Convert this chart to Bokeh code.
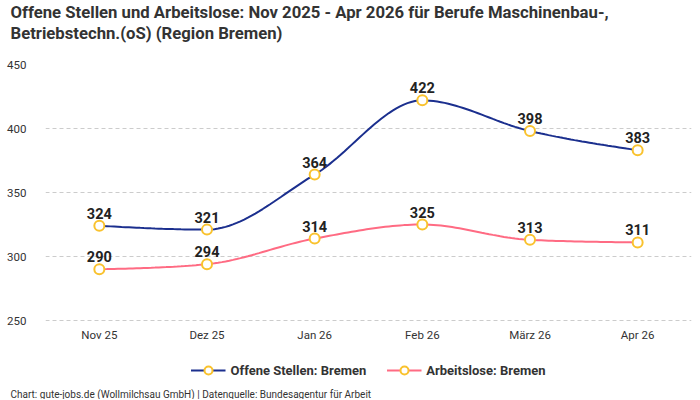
import numpy as np
from bokeh.plotting import figure
from bokeh.models import (ColumnDataSource, FixedTicker, Range1d, Title, Legend, LegendItem)
from bokeh.core.properties import value
from bokeh.embed import file_html
from bokeh.resources import INLINE

months = ["Nov 25", "Dez 25", "Jan 26", "Feb 26", "März 26", "Apr 26"]
offene = [324, 321, 364, 422, 398, 383]
arbeitslose = [290, 294, 314, 325, 313, 311]
y_ticks = [250, 300, 350, 400, 450]

FONT = "Roboto"
BLUE = "#1b2f8e"
PINK = "#ff6b83"
YELLOW = "#f9c22e"
TXT = "#333333"


def monotone(xs, ys, n=30):
    """d3 curveMonotoneX rendering of the given points."""
    xs = np.asarray(xs, float)
    ys = np.asarray(ys, float)
    h = np.diff(xs)
    s = np.diff(ys) / h
    m = len(xs)
    t = np.zeros(m)
    for i in range(1, m - 1):
        p = (s[i - 1] * h[i] + s[i] * h[i - 1]) / (h[i - 1] + h[i])
        t[i] = (np.sign(s[i - 1]) + np.sign(s[i])) * min(abs(s[i - 1]), abs(s[i]), 0.5 * abs(p))
    t[0] = (3 * s[0] - t[1]) / 2
    t[-1] = (3 * s[-1] - t[-2]) / 2
    X, Y = [], []
    u = np.linspace(0, 1, n)
    for i in range(m - 1):
        dx = h[i] / 3
        P0 = np.array([xs[i], ys[i]])
        P1 = np.array([xs[i] + dx, ys[i] + dx * t[i]])
        P2 = np.array([xs[i + 1] - dx, ys[i + 1] - dx * t[i + 1]])
        P3 = np.array([xs[i + 1], ys[i + 1]])
        seg = (((1 - u) ** 3)[:, None] * P0 + (3 * (1 - u) ** 2 * u)[:, None] * P1
               + (3 * (1 - u) * u ** 2)[:, None] * P2 + (u ** 3)[:, None] * P3)
        if i > 0:
            seg = seg[1:]
        X.extend(seg[:, 0])
        Y.extend(seg[:, 1])
    return X, Y


x = list(range(len(months)))

FRAME_H = 316
y_end = 450
y_start = y_end - FRAME_H * 50 / 64

p = figure(frame_width=646, frame_height=FRAME_H, output_backend="svg", toolbar_location=None,
           x_range=Range1d(-0.5, len(months) - 0.5), y_range=Range1d(y_start, y_end),
           min_border_left=45, min_border_right=9, min_border_top=0, min_border_bottom=0)
p.outline_line_color = None
p.background_fill_color = "white"
p.border_fill_color = "white"

# spacer between title block and plot area
p.add_layout(Title(text=" ", text_font_size="2px", standoff=18), "above")
p.add_layout(Title(text="Betriebstechn.(oS) (Region Bremen)", text_font=FONT,
                   text_font_size="16.7px", text_font_style="bold", text_color=TXT,
                   offset=-35, standoff=0), "above")
p.add_layout(Title(text="Offene Stellen und Arbeitslose: Nov 2025 - Apr 2026 für Berufe Maschinenbau-,",
                   text_font=FONT, text_font_size="16.7px", text_font_style="bold",
                   text_color=TXT, offset=-35, standoff=0), "above")

p.xgrid.grid_line_color = None
p.ygrid.grid_line_color = "#cccccc"
p.ygrid.grid_line_dash = "4 3"
p.yaxis.ticker = FixedTicker(ticks=y_ticks)
p.yaxis.axis_line_color = None
p.yaxis.major_tick_line_color = None
p.yaxis.minor_tick_line_color = None
p.yaxis.major_label_text_font = FONT
p.yaxis.major_label_text_font_size = "11.5px"
p.yaxis.major_label_text_color = TXT
p.yaxis.major_label_standoff = 13
p.xaxis.visible = False

# month labels under the lowest grid line
src_m = ColumnDataSource(dict(x=x, y=[y_ticks[0]] * len(x), t=months))
p.text("x", "y", text="t", source=src_m, text_font=value(FONT), text_font_size="11.5px",
       text_color=TXT, text_align="center", text_baseline="top", y_offset=7)

src_o = ColumnDataSource(dict(x=x, y=offene, t=[str(v) for v in offene]))
src_a = ColumnDataSource(dict(x=x, y=arbeitslose, t=[str(v) for v in arbeitslose]))

sx, sy = monotone(x, offene)
l1 = p.line(sx, sy, line_color=BLUE, line_width=2)
sx2, sy2 = monotone(x, arbeitslose)
l2 = p.line(sx2, sy2, line_color=PINK, line_width=2)
m1 = p.scatter("x", "y", source=src_o, size=10, fill_color="white", line_color=YELLOW, line_width=2)
m2 = p.scatter("x", "y", source=src_a, size=10, fill_color="white", line_color=YELLOW, line_width=2)

for src in (src_o, src_a):
    p.text("x", "y", text="t", source=src, text_font=value(FONT), text_font_size="14.5px",
           text_font_style="bold", text_color="#222222", text_align="center",
           text_baseline="bottom", y_offset=-7)

legend = Legend(items=[LegendItem(label="Offene Stellen: Bremen", renderers=[l1, m1]),
                       LegendItem(label="Arbeitslose: Bremen", renderers=[l2, m2])],
                orientation="horizontal", location="bottom_center",
                label_text_font=FONT, label_text_font_size="13px", label_text_font_style="bold",
                label_text_color=TXT, glyph_width=35, glyph_height=20, label_height=20,
                label_standoff=5, spacing=20, margin=0, padding=0,
                border_line_color=None, background_fill_alpha=0)
p.add_layout(legend)

p.add_layout(Title(text=" ", text_font_size="2px", standoff=2), "below")
p.add_layout(Title(text="Chart: gute-jobs.de (Wollmilchsau GmbH) | Datenquelle: Bundesagentur für Arbeit",
                   text_font=FONT, text_font_size="10px", text_font_style="normal",
                   text_color=TXT, align="left", offset=-35, standoff=0), "below")

open("out.html", "w").write(file_html(p, INLINE))
